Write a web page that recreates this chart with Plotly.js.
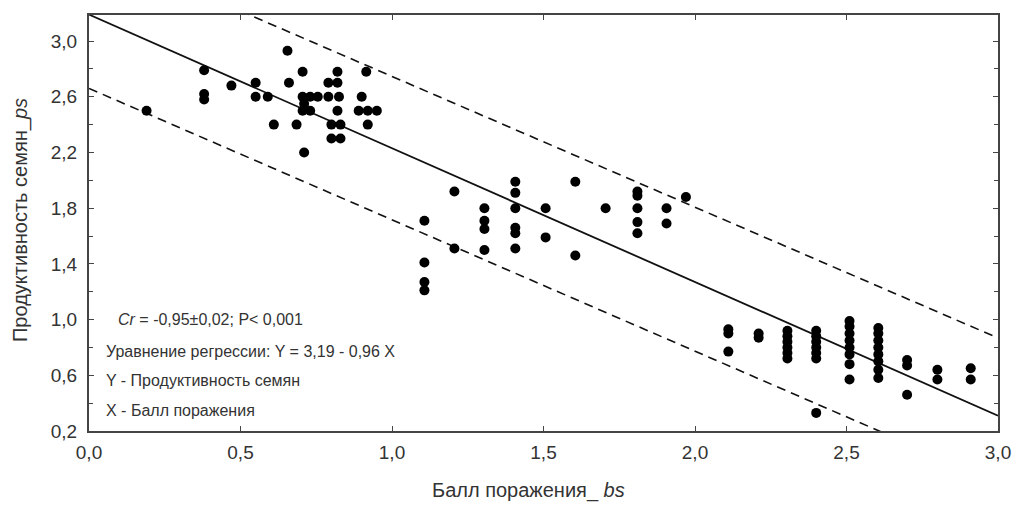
<!DOCTYPE html>
<html>
<head>
<meta charset="utf-8">
<script src="https://cdn.plot.ly/plotly-3.0.1.min.js"></script>
<style>html,body{margin:0;padding:0;background:#fff;}#chart{width:1019px;height:505px;}</style>
</head>
<body>
<div id="chart"></div>
<script>
// Observed points: damage score (bs) vs seed productivity (ps)
const pointsX = [
  0.19,
  0.38, 0.38, 0.38,
  0.47,
  0.55, 0.55,
  0.59, 0.61, 0.655, 0.66, 0.685,
  0.705, 0.705, 0.705,
  0.71, 0.71,
  0.73, 0.73, 0.755,
  0.79, 0.79,
  0.80, 0.80,
  0.82, 0.82, 0.82, 0.825,
  0.83, 0.83,
  0.89, 0.90, 0.915, 0.92, 0.92, 0.95,
  1.107, 1.107, 1.107, 1.107,
  1.206, 1.206,
  1.305, 1.305, 1.305, 1.305,
  1.407, 1.407, 1.407, 1.407, 1.407, 1.407,
  1.507, 1.507,
  1.605, 1.605,
  1.705,
  1.81, 1.81, 1.81, 1.81, 1.81,
  1.906, 1.906,
  1.97,
  2.11, 2.11, 2.11,
  2.21, 2.21,
  2.305, 2.305, 2.305, 2.305, 2.305, 2.305,
  2.40, 2.40, 2.40, 2.40, 2.40, 2.40, 2.40,
  2.51, 2.51, 2.51, 2.51, 2.51, 2.51, 2.51, 2.51,
  2.605, 2.605, 2.605, 2.605, 2.605, 2.605, 2.605, 2.605,
  2.70, 2.70, 2.70,
  2.80, 2.80,
  2.91, 2.91
];
const pointsY = [
  2.50,
  2.79, 2.62, 2.58,
  2.68,
  2.70, 2.60,
  2.60, 2.40, 2.93, 2.70, 2.40,
  2.78, 2.60, 2.50,
  2.20, 2.55,
  2.60, 2.50, 2.60,
  2.70, 2.60,
  2.40, 2.30,
  2.78, 2.70, 2.50, 2.60,
  2.40, 2.30,
  2.50, 2.60, 2.78, 2.50, 2.40, 2.50,
  1.71, 1.41, 1.27, 1.21,
  1.92, 1.51,
  1.80, 1.71, 1.65, 1.50,
  1.99, 1.91, 1.80, 1.66, 1.62, 1.51,
  1.80, 1.59,
  1.99, 1.46,
  1.80,
  1.92, 1.89, 1.80, 1.70, 1.62,
  1.80, 1.69,
  1.88,
  0.93, 0.90, 0.77,
  0.90, 0.87,
  0.92, 0.88, 0.84, 0.80, 0.76, 0.72,
  0.92, 0.88, 0.84, 0.80, 0.76, 0.72, 0.33,
  0.99, 0.95, 0.90, 0.85, 0.80, 0.75, 0.68, 0.57,
  0.94, 0.90, 0.85, 0.80, 0.75, 0.70, 0.64, 0.58,
  0.71, 0.67, 0.46,
  0.64, 0.57,
  0.65, 0.57
];
// Regression line Y = 3.19 - 0.96 X and confidence band
const fitX = [0, 3];
const fitY = [3.19, 0.31];
const upperX = [0, 3];
const upperY = [3.685, 0.868];
const lowerX = [0, 3];
const lowerY = [2.66, -0.17];
const xTicks = [0, 0.5, 1, 1.5, 2, 2.5, 3];
const yTicks = [0.2, 0.6, 1.0, 1.4, 1.8, 2.2, 2.6, 3.0];
const notes = [
  '<i>Cr</i> = -0,95±0,02; P< 0,001',
  'Уравнение регрессии: Y = 3,19 - 0,96 X',
  'Y - Продуктивность семян',
  'X - Балл поражения'
];
const xTitle = 'Балл поражения_ <i>bs</i>';
const yTitle = 'Продуктивность семян_<i>ps</i>';

const FONT = 'Liberation Sans, Arial, sans-serif';
const traces = [
  {x: upperX, y: upperY, mode: 'lines', line: {color: '#111', width: 1.6, dash: '9px,6px'}, hoverinfo: 'skip'},
  {x: lowerX, y: lowerY, mode: 'lines', line: {color: '#111', width: 1.6, dash: '9px,6px'}, hoverinfo: 'skip'},
  {x: fitX, y: fitY, mode: 'lines', line: {color: '#111', width: 1.8}, hoverinfo: 'skip'},
  {x: pointsX, y: pointsY, mode: 'markers', marker: {color: '#000', size: 10}}
];

const noteY = [1.0, 0.77, 0.56, 0.35];
const annotations = notes.map((t, i) => ({
  text: t, xref: 'x', yref: 'y', x: i === 0 ? 0.09 : 0.05, y: noteY[i],
  xanchor: 'left', yanchor: 'middle', showarrow: false,
  font: {family: FONT, size: 16, color: '#333'}
}));
annotations.push({
  text: xTitle, xref: 'paper', yref: 'paper', x: 0.375, y: -0.142,
  xanchor: 'left', yanchor: 'middle', showarrow: false,
  font: {family: FONT, size: 20, color: '#333'}
});
annotations.push({
  text: yTitle, xref: 'paper', yref: 'paper', x: -0.076, y: 0.507, textangle: -90,
  xanchor: 'center', yanchor: 'middle', showarrow: false,
  font: {family: FONT, size: 20, color: '#333'}
});

const axisCommon = {
  showgrid: false, zeroline: false, showline: true, linecolor: '#444', linewidth: 2,
  mirror: 'ticks', ticks: 'inside', ticklen: 5, tickcolor: '#444', tickwidth: 1,
  tickfont: {family: FONT, size: 19, color: '#333'}, tickformat: '.1f'
};

const layout = {
  width: 1019, height: 505,
  margin: {l: 89, r: 21, t: 15, b: 74},
  paper_bgcolor: '#fff', plot_bgcolor: '#fff',
  separators: ',.',
  showlegend: false,
  xaxis: Object.assign({}, axisCommon, {
    range: [0, 3.0], tickvals: xTicks, ticklabelstandoff: 3
  }),
  yaxis: Object.assign({}, axisCommon, {
    range: [0.2, 3.187], tickvals: yTicks, ticklabelstandoff: 6,
    minor: {dtick: 0.2, tick0: 0.2, ticks: 'inside', ticklen: 4, tickcolor: '#444'}
  }),
  annotations: annotations
};

Plotly.newPlot('chart', traces, layout, {displayModeBar: false, staticPlot: true});
</script>
</body>
</html>
